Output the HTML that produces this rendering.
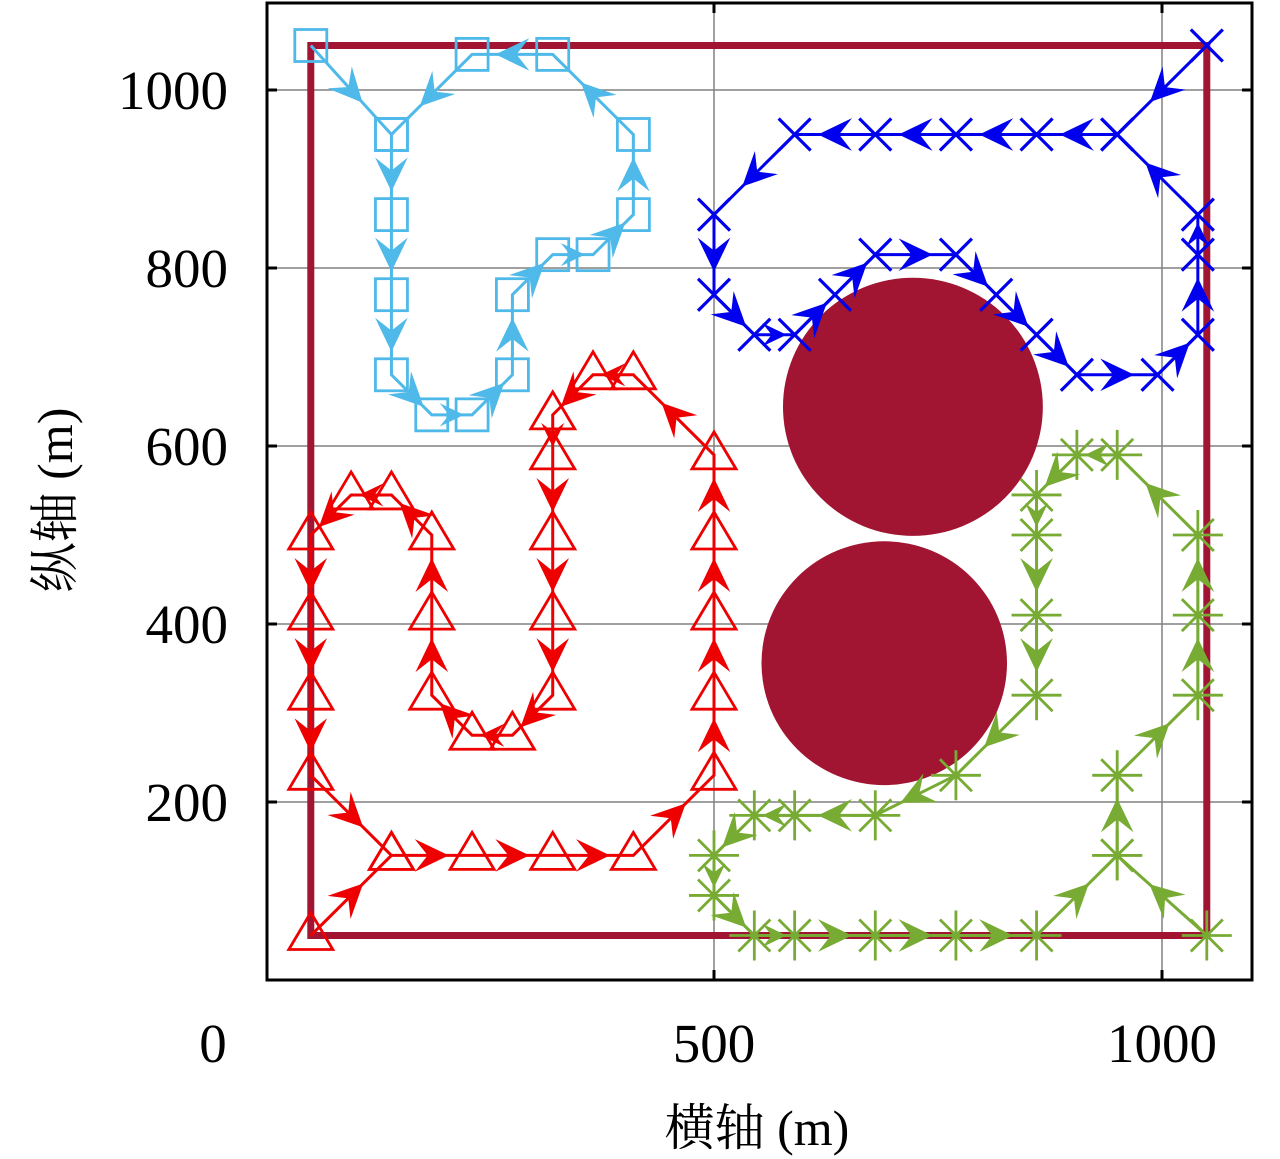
<!DOCTYPE html>
<html><head><meta charset="utf-8"><style>
html,body{margin:0;padding:0;background:#fff;}
svg{display:block;}
text{font-family:"Liberation Serif","Noto Serif CJK SC",serif;fill:#000;}
</style></head><body>
<svg id="chart" width="1280" height="1159" viewBox="0 0 1280 1159" xmlns="http://www.w3.org/2000/svg">
<g id="grid"></g>
<g id="obst"></g>
<g id="series"></g>
<g id="axes"></g>
<text x="757" y="1145" font-size="50" text-anchor="middle">横轴 (m)</text>
<text x="0" y="0" font-size="50" text-anchor="middle" transform="translate(72,500) rotate(-90)">纵轴 (m)</text>
</svg>
<script>
const xTicks=[500,1000];
const yTicks=[200,400,600,800,1000];
const boundaryX=[50,1050];
const boundaryY=[50,1050];
const obstacleX=[722,690];
const obstacleY=[644,356];
const obstacleR=[145,137];
const cyanX=[50,140,140,140,140,185,230,275,275,320,365,410,410,320,230,140];
const cyanY=[1050,950,860,770,680,635,635,680,770,815,815,860,950,1040,1040,950];
const blueX=[1050,950,860,770,680,590,500,500,545,590,635,680,770,815,860,905,995,1040,1040,1040,950];
const blueY=[1050,950,950,950,950,950,860,770,725,725,770,815,815,770,725,680,680,725,815,860,950];
const redX=[50,140,230,320,410,500,500,500,500,500,410,365,320,320,320,320,320,275,230,185,185,185,140,95,50,50,50,50,140];
const redY=[50,140,140,140,140,230,320,410,500,590,680,680,635,590,500,410,320,275,275,320,410,500,545,545,500,410,320,230,140];
const greenX=[1050,950,950,1040,1040,1040,950,905,860,860,860,860,770,680,590,545,500,500,545,590,680,770,860,950];
const greenY=[50,140,230,320,410,500,590,590,545,500,410,320,230,185,185,185,140,95,50,50,50,50,50,140];

const X0=266,XS=0.896,Y0=980,YS=0.89;
const sx=v=>X0+v*XS, sy=v=>Y0-v*YS;
const NS='http://www.w3.org/2000/svg';
function mk(tag,parent,attrs){const e=document.createElementNS(NS,tag);for(const k in attrs)e.setAttribute(k,attrs[k]);parent.appendChild(e);return e;}
const grid=document.getElementById('grid'),axes=document.getElementById('axes'),obst=document.getElementById('obst'),series=document.getElementById('series');
const L=267,R=1252,T=3,B=980;
xTicks.forEach(v=>{
  const g=mk('line',grid,{x1:sx(v),x2:sx(v),y1:T,y2:B,stroke:'#808080','stroke-width':1.5});
  
  
  [[B,B-10],[T,T+10]].forEach(p=>{const t=mk('line',axes,{x1:sx(v),x2:sx(v),y1:p[0],y2:p[1],stroke:'#000','stroke-width':3});
    
    });
  const lb=mk('text',axes,{x:sx(v),y:1062,'font-size':55,'text-anchor':'middle'});lb.textContent=String(v);
  
  
});
const z=mk('text',axes,{x:213,y:1062,'font-size':55,'text-anchor':'middle'});z.textContent='0';


yTicks.forEach(v=>{
  const g=mk('line',grid,{x1:L,x2:R,y1:sy(v),y2:sy(v),stroke:'#808080','stroke-width':1.5});
  
  
  [[L,L+10],[R,R-10]].forEach(p=>{const t=mk('line',axes,{x1:p[0],x2:p[1],y1:sy(v),y2:sy(v),stroke:'#000','stroke-width':3});
    
    });
  const lb=mk('text',axes,{x:228,y:sy(v)+19,'font-size':55,'text-anchor':'end'});lb.textContent=String(v);
  
  
});
const box=mk('rect',axes,{x:L,y:T,width:R-L,height:B-T,fill:'none',stroke:'#000','stroke-width':3});



const CR='#a11432';
for(let i=0;i<obstacleX.length;i++){
  const c=mk('ellipse',obst,{cx:sx(obstacleX[i]),cy:sy(obstacleY[i]),rx:obstacleR[i]*XS,ry:obstacleR[i]*YS,fill:CR});
  
  
}
const bnd=mk('rect',obst,{x:sx(boundaryX[0]),y:sy(boundaryY[1]),width:sx(boundaryX[1])-sx(boundaryX[0]),height:sy(boundaryY[0])-sy(boundaryY[1]),fill:'none',stroke:CR,'stroke-width':7});



function marker(g,type,x,y,col){
  let e;
  if(type==='square'){e=mk('rect',g,{x:x-16,y:y-16,width:32,height:32,fill:'none',stroke:col,'stroke-width':2.8});}
  else if(type==='cross'){e=mk('path',g,{d:`M${x-16} ${y-16}L${x+16} ${y+16}M${x-16} ${y+16}L${x+16} ${y-16}`,stroke:col,'stroke-width':3.2,fill:'none'});}
  else if(type==='tri'){e=mk('path',g,{d:`M${x} ${y-23}L${x+22} ${y+14}L${x-22} ${y+14}Z`,stroke:col,'stroke-width':2.8,fill:'none'});}
  else {e=mk('path',g,{d:`M${x-25} ${y}L${x+25} ${y}M${x} ${y-25}L${x} ${y+25}M${x-16} ${y-16}L${x+16} ${y+16}M${x-16} ${y+16}L${x+16} ${y-16}`,stroke:col,'stroke-width':2.8,fill:'none'});}
  
  
}
function drawSeries(name,xs,ys,col,type){
  const g=mk('g',series,{});
  
  
  const pts=xs.map((v,i)=>[sx(v),sy(ys[i])]);
  const pl=mk('polyline',g,{points:pts.map(p=>p.join(',')).join(' '),fill:'none',stroke:col,'stroke-width':3,'stroke-linejoin':'miter'});
  
  
  for(let i=0;i<pts.length-1;i++){
    const [x1,y1]=pts[i],[x2,y2]=pts[i+1];
    const dx=x2-x1,dy=y2-y1,len=Math.hypot(dx,dy);if(len<1)continue;
    const ux=dx/len,uy=dy/len,px=-uy,py=ux;
    const hl=Math.min(34,len*0.6),hw=hl*0.48,nt=hl*0.62;
    const mx=(x1+x2)/2,my=(y1+y2)/2;
    const tx=mx+ux*hl/2,ty=my+uy*hl/2;
    const bx=tx-ux*hl,by=ty-uy*hl;
    const nx=tx-ux*nt,ny=ty-uy*nt;
    const a=mk('path',g,{d:`M${tx} ${ty}L${bx+px*hw} ${by+py*hw}L${nx} ${ny}L${bx-px*hw} ${by-py*hw}Z`,fill:col,stroke:'none'});
    
    
  }
  pts.forEach(p=>marker(g,type,p[0],p[1],col));
}
drawSeries('cyan-path',cyanX,cyanY,'#4fb9e9','square');
drawSeries('blue-path',blueX,blueY,'#0000ee','cross');
drawSeries('red-path',redX,redY,'#ee0000','tri');
drawSeries('green-path',greenX,greenY,'#77ab33','star');
</script>
</body></html>
